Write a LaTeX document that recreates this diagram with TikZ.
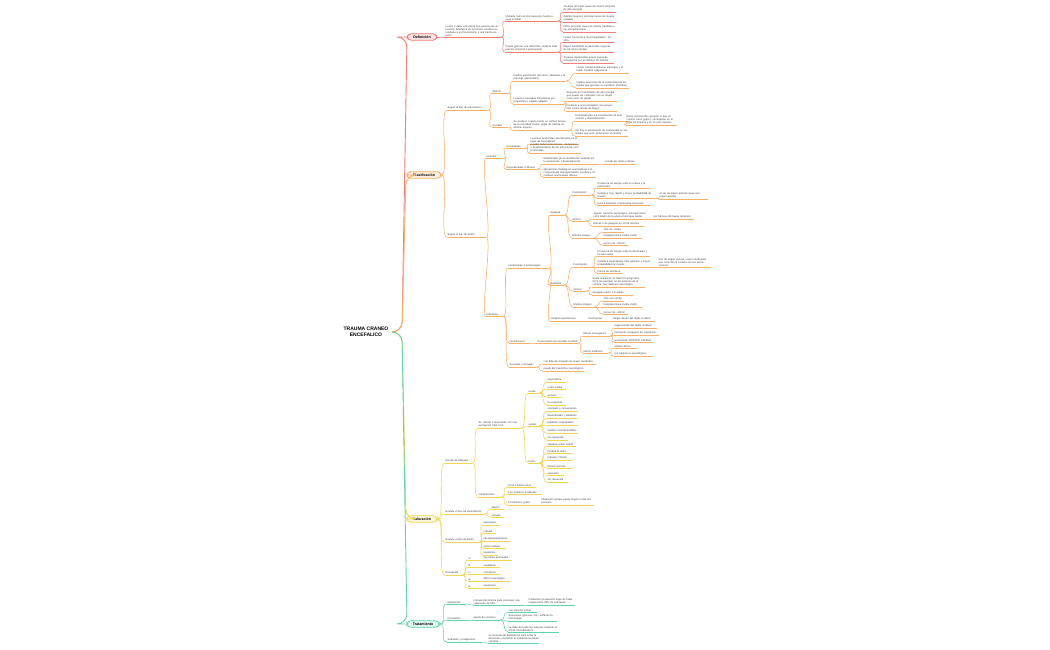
\documentclass[tikz,border=0pt]{standalone}
\usepackage{fontspec}
\setmainfont{Liberation Sans}
\definecolor{cr}{RGB}{240,125,120}
\definecolor{co}{RGB}{246,176,105}
\definecolor{cy}{RGB}{242,213,80}
\definecolor{cg}{RGB}{100,212,168}
\begin{document}
\begin{tikzpicture}[x=1pt,y=-1pt,
 leaf/.style={anchor=south west,inner xsep=0.5pt,inner ysep=0.7pt,align=left,font=\fontsize{2.6}{3}\selectfont,text=black!75},
 ln/.style={line width=0.55pt},
 root/.style={rounded corners=4pt,line width=0.8pt,inner xsep=6pt,inner ysep=2pt,font=\fontsize{3.6}{4}\selectfont\bfseries}]
\newcommand\N[6]{\node[leaf,text width=#4pt] (#1) at (#2,#3) {#5}; \draw[#6,ln] (#1.south west)--(#1.south east);}
\newcommand\Lk[3]{\draw[#3,ln] (#1.south east) .. controls +(6,0) and +(-6,0) .. (#2.south west);}
\newcommand\Rk[3]{\draw[#3,ln] (#1.east) .. controls +(8,0) and +(-8,0) .. (#2.south west);}
\useasboundingbox (0,0) rectangle (1050,650);
\fill[white] (0,0) rectangle (1050,650);
\node[font=\fontsize{5}{6}\selectfont\bfseries,align=center] (c) at (366,332) {TRAUMA CRANEO\\ENCEFALICO};
\node[root,draw=cr,fill=cr!20] (def) at (422,37) {Definición};
\node[root,draw=co,fill=co!20] (cla) at (424,175) {Clasificación};
\node[root,draw=cy,fill=cy!20] (val) at (422,519) {Valoración};
\node[root,draw=cg,fill=cg!20] (tra) at (423,624) {Tratamiento};
\draw[cr,line width=0.9pt,rounded corners=10pt] (c.east) -- (402,332) -- (407,37) -- (def.west);
\draw[co,line width=0.9pt,rounded corners=10pt] (c.east) -- (402,332) -- (406,175) -- (cla.west);
\draw[cy,line width=0.9pt,rounded corners=10pt] (c.east) -- (402,332) -- (406,519) -- (val.west);
\draw[cg,line width=0.9pt,rounded corners=10pt] (c.east) -- (402,332) -- (407,624) -- (tra.west);
% Definicion
\N{d1}{445}{37}{55}{Lesión o daño estructural que genera una alteración fisiológica de la función cerebral secundaria a un traumatismo o una fuerza externa}{cr}
\Rk{def}{d1}{cr}
\N{d11}{505}{21}{52}{Ubicado como la 3ra causa de muerte a nivel mundial}{cr}
\N{d12}{505}{52}{52}{Puede generar una disfunción cerebral total: parcial, temporal o permanente}{cr}
\Lk{d1}{d11}{cr}\Lk{d1}{d12}{cr}
\N{d111}{563}{12}{52}{Jovenes principal causa de muerte (impacto de alta energía)}{cr}
\N{d112}{563}{22}{52}{Adultos mayores principal causa de muerte (caídas)}{cr}
\N{d113}{563}{32}{52}{Niños principal causa de muerte (maltrato y las precipitaciones)}{cr}
\foreach \t in {d111,d112,d113}{\Lk{d11}{\t}{cr}}
\N{d121}{563}{42}{50}{Lesión frecuente a nivel hospitalario: 10-15\%}{cr}
\N{d122}{563}{52}{50}{Mayor mortalidad en pacientes mayores de 60 años (caídas)}{cr}
\N{d123}{563}{63}{50}{Jóvenes representan mayor causa de emergencia por accidentes de tránsito}{cr}
\foreach \t in {d121,d122,d123}{\Lk{d12}{\t}{cr}}
% Clasificacion - mecanismo
\N{c1}{447}{110}{40}{Según el tipo de mecanismo}{co}
\N{c2}{447}{237}{38}{Según el tipo de lesión}{co}
\Rk{cla}{c1}{co}\Rk{cla}{c2}{co}
\N{c11}{492}{93}{15}{Abierto}{co}
\N{c12}{492}{127}{15}{Cerrado}{co}
\Lk{c1}{c11}{co}\Lk{c1}{c12}{co}
\N{c111}{513}{81}{52}{Implica penetración del cuero cabelludo y la meninge (duramadre)}{co}
\N{c112}{513}{104}{50}{Lesiones causadas físicamente por proyectiles u objetos afilados}{co}
\Lk{c11}{c111}{co}\Lk{c11}{c112}{co}
\N{c1111}{576}{73}{52}{Lesión comprometida las meninges y el tejido cerebral subyacente}{co}
\N{c1112}{576}{88}{52}{Implica laceración de la continuidad de los tejidos que generan un sumidero (hundido)}{co}
\Lk{c111}{c1111}{co}\Lk{c111}{c1112}{co}
\N{c1121}{566}{101}{50}{Aumento por transmisión de alta energía que puede ser contusión con un objeto romo (aros de golpe)}{co}
\N{c1122}{566}{111}{50}{Contacto a nivel energético sus proyectiles (como armas de fuego)}{co}
\Lk{c112}{c1121}{co}\Lk{c112}{c1122}{co}
\N{c121}{513}{130}{55}{Se produce cuando existe un cambio brusco de la velocidad (como, golpe de cabeza en distinto órgano)}{co}
\Lk{c12}{c121}{co}
\N{c1211}{575}{121}{52}{Principalmente los movimientos de aceleración y desaceleración}{co}
\N{c1212}{575}{136}{52}{No hay ni penetración de continuidad en los tejidos que sean protectores al cerebro}{co}
\Lk{c121}{c1211}{co}\Lk{c121}{c1212}{co}
\N{c12111}{626}{125}{50}{Estos movimientos generan lo que se conoce como golpe y contragolpe en el lugar de impacto y en su polo opuesto}{co}
\Lk{c1211}{c12111}{co}
% Clasificacion - lesion
\N{c21}{486}{158}{16}{Directas}{co}
\N{c22}{486}{316}{16}{Indirectas}{co}
\Lk{c2}{c21}{co}\Lk{c2}{c22}{co}
\N{c211}{506}{148}{18}{Focalizadas}{co}
\N{c212}{506}{169}{30}{Generalizadas o difusas}{co}
\Lk{c21}{c211}{co}\Lk{c21}{c212}{co}
\N{c2111}{530}{144}{48}{Lesiones producidas directamente en el lugar de traumatismo}{co}
\N{c2112}{530}{153}{50}{pueden haber laceraciones, contusiones y desplazamiento de las estructuras comprometidas}{co}
\Lk{c211}{c2111}{co}\Lk{c211}{c2112}{co}
\N{c2121}{543}{164}{52}{Relacionado por la distribución cerebral por la aceleración y desaceleración}{co}
\N{c2122}{543}{177}{52}{alteraciones fisiológicas acumulativas con componentes desorganización cerebral y no cambios acumulados difusos}{co}
\Lk{c212}{c2121}{co}\Lk{c212}{c2122}{co}
\N{c21211}{605}{164}{30}{puede ser mixta o difusa}{co}
\Lk{c2121}{c21211}{co}
% Hematomas
\N{h}{508}{268}{40}{Hematomas o hemorragias}{co}
\N{hn}{509}{343}{18}{Herniaciones}{co}
\N{sq}{509}{367}{26}{Secuelas y secuelas}{co}
\Lk{c22}{h}{co}\Lk{c22}{hn}{co}\Lk{c22}{sq}{co}
\N{ep}{550}{215}{13}{Epidural}{co}
\N{sd}{550}{285}{13}{Subdural}{co}
\N{ip}{550}{321}{34}{Intraparenquimatosos}{co}
\Lk{h}{ep}{co}\Lk{h}{sd}{co}\Lk{h}{ip}{co}
\N{ep1}{572}{195}{18}{Descripción}{co}
\N{ep2}{572}{221}{12}{Clínica}{co}
\N{ep3}{572}{238}{20}{Medios imagen}{co}
\Lk{ep}{ep1}{co}\Lk{ep}{ep2}{co}\Lk{ep}{ep3}{co}
\N{ep11}{597}{188}{52}{Presencia de sangre entre el cráneo y la duramadre}{co}
\N{ep12}{597}{198}{58}{Debida a muy rápido y mayor probabilidad de muerte}{co}
\N{ep13}{597}{205}{52}{Forma lenticular o bicóncava arteriosas}{co}
\foreach \t in {ep11,ep12,ep13}{\Lk{ep1}{\t}{co}}
\N{ep121}{659}{199}{48}{al ser de origen arterial causa una mayor presión}{co}
\Lk{ep12}{ep121}{co}
\N{ep21}{593}{219}{55}{Agudo: Síntoma neurológico, principal reducción/ lesión de la arteria meníngea media}{co}
\N{ep22}{593}{226}{50}{Menos 2 de glasgow en 20-60 minutos}{co}
\Lk{ep2}{ep21}{co}\Lk{ep2}{ep22}{co}
\N{ep211}{653}{219}{40}{por fractura del hueso temporal}{co}
\Lk{ep21}{ep211}{co}
\N{ep31}{603}{232}{20}{TAC sin contig}{co}
\N{ep32}{603}{238}{38}{Desplaza línea media +5mm}{co}
\N{ep33}{603}{245}{24}{Grosor de +10mm}{co}
\foreach \t in {ep31,ep32,ep33}{\Lk{ep3}{\t}{co}}
\N{sd1}{573}{267}{18}{Descripción}{co}
\N{sd2}{573}{291}{12}{Clínica}{co}
\N{sd3}{573}{307}{20}{Medios imagen}{co}
\Lk{sd}{sd1}{co}\Lk{sd}{sd2}{co}\Lk{sd}{sd3}{co}
\N{sd11}{597}{256}{52}{Presencia de sangre entre la duramadre y la aracnoides}{co}
\N{sd12}{597}{267}{58}{Debida a traumatismo más agresivo y mayor probabilidad de muerte}{co}
\N{sd13}{597}{273}{24}{Forma de semiluna}{co}
\foreach \t in {sd11,sd12,sd13}{\Lk{sd1}{\t}{co}}
\N{sd121}{658}{267}{52}{Son de origen venoso, vasos confinados que conectan la corteza con los senos venosos}{co}
\Lk{sd12}{sd121}{co}
\N{sd21}{592}{287}{52}{Suele ocasionar un deterioro progresivo GCS (se pierden) en las lesiones de la corteza: hay deterioro neurológico}{co}
\N{sd22}{592}{295}{40}{Glasgow menor o 8 rápido}{co}
\Lk{sd2}{sd21}{co}\Lk{sd2}{sd22}{co}
\N{sd31}{603}{301}{20}{TAC con contig}{co}
\N{sd32}{603}{307}{38}{Desplaza línea media +5mm}{co}
\N{sd33}{603}{314}{24}{Grosor de +10mm}{co}
\foreach \t in {sd31,sd32,sd33}{\Lk{sd3}{\t}{co}}
\N{ip1}{588}{321}{18}{Descripción}{co}
\Lk{ip}{ip1}{co}
\N{ip11}{612}{321}{42}{sangre dentro del tejido cerebral}{co}
\Lk{ip1}{ip11}{co}
\N{hn1}{537}{343}{40}{Desconexión de encéfalo cerebral}{co}
\Lk{hn}{hn1}{co}
\N{hn11}{583}{336}{26}{Efecto neurogénico}{co}
\N{hn12}{583}{353}{24}{Efecto sistémico}{co}
\Lk{hn1}{hn11}{co}\Lk{hn1}{hn12}{co}
\N{hn111}{614}{328}{42}{regeneración del tejido cerebral}{co}
\N{hn112}{614}{335}{44}{herniación al agujero de conjunción}{co}
\N{hn113}{614}{342}{38}{uncamiento ROSTRO CAUDAL}{co}
\foreach \t in {hn111,hn112,hn113}{\Lk{hn11}{\t}{co}}
\N{hn121}{614}{348}{22}{edema difuso}{co}
\N{hn122}{614}{356}{38}{por trastornos neurológicos}{co}
\Lk{hn12}{hn121}{co}\Lk{hn12}{hn122}{co}
\N{sq1}{543}{364}{52}{con falta de irrigación de áreas cerebrales}{co}
\N{sq2}{543}{371}{40}{puede dar trastornos neurológicos}{co}
\Lk{sq}{sq1}{co}\Lk{sq}{sq2}{co}
% Valoracion
\N{v1}{445}{463}{26}{Escala de Glasgow}{cy}
\N{v2}{445}{514}{38}{Evaluar el tipo de traumatismo}{cy}
\N{v3}{445}{542}{33}{Evaluar el tipo de lesión}{cy}
\N{v4}{445}{575}{16}{Emergente}{cy}
\foreach \t in {v1,v2,v3,v4}{\Rk{val}{\t}{cy}}
\N{g}{478}{428}{42}{Se calcula 3 respuestas con una puntuación total 3-15}{cy}
\N{gi}{478}{497}{22}{Interpretación}{cy}
\Lk{v1}{g}{cy}\Lk{v1}{gi}{cy}
\N{go}{528}{393}{10}{ocular}{cy}
\N{gv}{528}{426}{10}{verbal}{cy}
\N{gm}{528}{463}{10}{motor}{cy}
\Lk{g}{go}{cy}\Lk{g}{gv}{cy}\Lk{g}{gm}{cy}
\N{go1}{547}{382}{18}{espontánea}{cy}
\N{go2}{547}{389}{18}{orden verbal}{cy}
\N{go3}{547}{397}{14}{al dolor}{cy}
\N{go4}{547}{405}{18}{no responde}{cy}
\foreach \t in {go1,go2,go3,go4}{\Lk{go}{\t}{cy}}
\N{gv1}{547}{411}{30}{orientado y conversando}{cy}
\N{gv2}{547}{418}{30}{desorientado y hablando}{cy}
\N{gv3}{547}{425}{30}{palabras inapropiadas}{cy}
\N{gv4}{547}{433}{30}{sonidos incomprensibles}{cy}
\N{gv5}{547}{440}{20}{sin respuesta}{cy}
\foreach \t in {gv1,gv2,gv3,gv4,gv5}{\Lk{gv}{\t}{cy}}
\N{gm1}{547}{446}{28}{obedece orden verbal}{cy}
\N{gm2}{547}{453}{24}{localiza el dolor}{cy}
\N{gm3}{547}{460}{24}{retirada y flexión}{cy}
\N{gm4}{547}{468}{24}{flexión anormal}{cy}
\N{gm5}{547}{475}{16}{extensión}{cy}
\N{gm6}{547}{482}{20}{sin respuesta}{cy}
\foreach \t in {gm1,gm2,gm3,gm4,gm5,gm6}{\Lk{gm}{\t}{cy}}
\N{gi1}{507}{487}{28}{13-15 trastorno leve}{cy}
\N{gi2}{507}{494}{34}{9-12 trastorno moderado}{cy}
\N{gi3}{507}{505}{32}{3-8 trastorno grave}{cy}
\foreach \t in {gi1,gi2,gi3}{\Lk{gi}{\t}{cy}}
\N{gi31}{541}{505}{52}{intubación porque puede llegar la vida del paciente}{cy}
\Lk{gi3}{gi31}{cy}
\N{t1}{491}{509}{12}{abierto}{cy}
\N{t2}{491}{517}{12}{cerrado}{cy}
\Lk{v2}{t1}{cy}\Lk{v2}{t2}{cy}
\N{l1}{483}{525}{16}{epicraneal}{cy}
\N{l2}{483}{533}{12}{craneal}{cy}
\N{l3}{483}{541}{26}{intraparenquimatoso}{cy}
\N{l4}{483}{548}{22}{extra-cerebral}{cy}
\N{l5}{483}{555}{14}{isquemias}{cy}
\foreach \t in {l1,l2,l3,l4,l5}{\Lk{v3}{\t}{cy}}
\foreach \n/\l/\t/\y/\w in {a/A/Vía aérea permeable/560/28,b/B/ventilación/567/16,cc/C/circulación/574/16,d/D/déficit neurológico/581/26,e/E/exposición/588/16}{
 \N{e\n}{468}{\y}{10}{\l}{cy}
 \Lk{v4}{e\n}{cy}
 \N{f\n}{483}{\y}{\w}{\t}{cy}
 \Lk{e\n}{f\n}{cy}}
% Tratamiento
\N{r1}{447}{604}{18}{Medicación}{cg}
\N{r2}{447}{620}{18}{Circulación}{cg}
\N{r3}{447}{642}{34}{Sedantes y analgesicos}{cg}
\foreach \t in {r1,r2,r3}{\Rk{tra}{\t}{cg}}
\N{r11}{473}{605}{48}{Intervención básica para conseguir una saturación de 95\%}{cg}
\Lk{r1}{r11}{cg}
\N{r111}{528}{605}{46}{Intubación (la paciente lugar de tratar oxigenación) 95\% de saturación}{cg}
\Lk{r11}{r111}{cg}
\N{r21}{473}{620}{26}{aporte de volumen}{cg}
\Lk{r2}{r21}{cg}
\N{r211}{508}{612}{28}{con solución salina}{cg}
\N{r212}{508}{621}{48}{Soluciones (glucosa, sol.) evitando la hemorragia}{cg}
\N{r213}{508}{632}{50}{se debe de tratar las lesiones evitando el shock hemodinámico}{cg}
\foreach \t in {r211,r212,r213}{\Lk{r21}{\t}{cg}}
\N{r31}{488}{643}{50}{se recomienda barbitúricos para evitar la elevación y disminuir el metabolismo basal cerebral}{cg}
\Lk{r3}{r31}{cg}
\end{tikzpicture}
\end{document}
